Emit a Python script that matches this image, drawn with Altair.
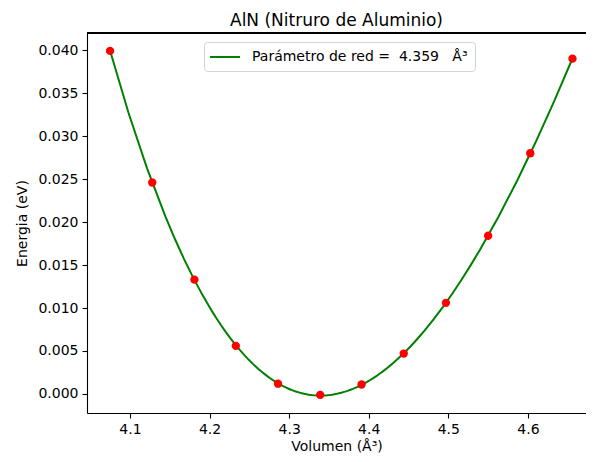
import altair as alt
import pandas as pd

# Data
volumen = [4.075, 4.128, 4.181, 4.233, 4.286, 4.339, 4.391, 4.444, 4.497, 4.550, 4.603, 4.656]
energia = [0.0399, 0.0246, 0.0133, 0.0056, 0.0012, -0.0001, 0.0011, 0.0047, 0.0106, 0.0184, 0.0280, 0.0390]
x_ticks = [4.1, 4.2, 4.3, 4.4, 4.5, 4.6]
y_ticks = [0.000, 0.005, 0.010, 0.015, 0.020, 0.025, 0.030, 0.035, 0.040]
legend_label = "Parámetro de red =\u00a0 4.359\u00a0\u00a0 Å³"
title_text = "AlN (Nitruro de Aluminio)"

df = pd.DataFrame({"Volumen": volumen, "Energia": energia})

FONT = "DejaVu Sans"
W, H = 499, 380

x_enc = alt.X(
    "Volumen:Q",
    scale=alt.Scale(domain=[4.046, 4.673], nice=False, zero=False),
    axis=alt.Axis(values=x_ticks, format=".1f", title="Volumen (Å³)"),
)
y_enc = alt.Y(
    "Energia:Q",
    scale=alt.Scale(domain=[-0.00221, 0.04198], nice=False, zero=False),
    axis=alt.Axis(values=y_ticks, format=".3f", title="Energia (eV)"),
)

fit = (
    alt.Chart(df)
    .transform_regression("Volumen", "Energia", method="poly", order=4)
    .transform_calculate(serie=f"'{legend_label}'")
    .mark_line(strokeWidth=2, clip=True)
    .encode(
        x=x_enc,
        y=y_enc,
        color=alt.Color(
            "serie:N",
            scale=alt.Scale(domain=[legend_label], range=["#008000"]),
            legend=alt.Legend(
                title=None,
                orient="none",
                legendX=117,
                legendY=9,
                symbolType="M-1.29,0L3,0",
                symbolSize=196,
                symbolStrokeWidth=2,
                labelOffset=25,
                labelFontSize=14,
                labelFont=FONT,
                labelColor="black",
                fillColor="white",
                strokeColor="#d3d3d3",
                cornerRadius=3,
                padding=7,
                labelLimit=400,
            ),
        ),
    )
)

points = (
    alt.Chart(df)
    .mark_circle(color="red", size=70, opacity=1)
    .encode(x=x_enc, y=y_enc)
)

top_border = (
    alt.Chart(df)
    .mark_rule(color="black", strokeWidth=1.1)
    .encode(x=alt.value(0), x2=alt.value(W), y=alt.value(0))
)

chart = (
    alt.layer(fit, points, top_border)
    .properties(
        width=W,
        height=H,
        autosize=alt.AutoSizeParams(type="none"),
        padding={"left": 79, "top": 25, "right": 0, "bottom": 41},
        title=alt.TitleParams(
            text=title_text,
            font=FONT,
            fontSize=17,
            fontWeight="normal",
            color="black",
            anchor="middle",
            offset=2,
        ),
    )
    .configure_view(strokeWidth=0)
    .configure_axis(
        grid=False,
        domain=True,
        domainColor="black",
        domainWidth=1.1,
        tickColor="black",
        tickSize=5,
        tickWidth=1.1,
        labelFont=FONT,
        labelFontSize=14,
        labelColor="black",
        labelPadding=4,
        titleFont=FONT,
        titleFontSize=14,
        titleFontWeight="normal",
        titleColor="black",
    )
    .configure_axisY(titlePadding=8)
    .configure_axisX(titlePadding=3)
)

chart.save("out.html", embed_options={"renderer": "svg", "actions": False})
